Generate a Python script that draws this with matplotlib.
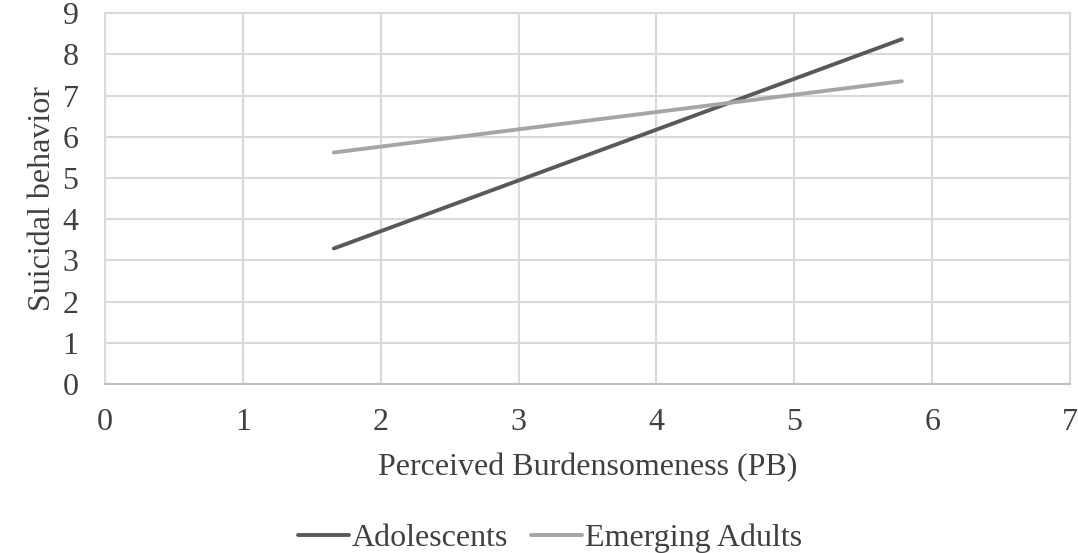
import numpy as np
import matplotlib.pyplot as plt

# slope data (PB mean -/+ 1 SD)
pb_x = [1.66, 5.78]
adolescents = [3.29, 8.37]
emerging_adults = [5.62, 7.35]

plt.rcParams['font.family'] = ['Liberation Serif', 'DejaVu Serif']

fig = plt.figure(figsize=(10.78, 5.53), dpi=100)
ax = fig.add_axes([0.0974, 0.3056, 0.8952, 0.6704])

ax.plot(pb_x, adolescents, color='#595959', lw=2.8, label='Adolescents', solid_capstyle='round')
ax.plot(pb_x, emerging_adults, color='#A5A5A5', lw=2.8, label='Emerging Adults', solid_capstyle='round')

ax.set_xlim(0, 7)
ax.set_ylim(0, 9)
ax.set_xticks(np.arange(0, 8, 1))
ax.set_yticks(np.arange(0, 10, 1))
ax.grid(True, color='#D9D9D9', lw=1.5)
ax.set_axisbelow(True)
for s in ax.spines.values():
    s.set_color('#D9D9D9')
    s.set_linewidth(1.5)
ax.spines['bottom'].set_color('#BFBFBF')
ax.tick_params(length=0, labelsize=23, labelcolor='#404040')
ax.tick_params(axis='x', pad=17)
ax.tick_params(axis='y', pad=19)

ax.set_xlabel('Perceived Burdensomeness (PB)', fontsize=23, color='#404040', labelpad=12)
ax.set_ylabel('Suicidal behavior', fontsize=23, color='#404040', labelpad=4)

leg = fig.legend(loc='center', bbox_to_anchor=(550 / 1078, 1 - 538 / 553), ncol=2, frameon=False,
                 fontsize=23, handlelength=1.6, handletextpad=0.1, columnspacing=0.7)
for t in leg.get_texts():
    t.set_color('#404040')

fig.savefig('out.png', dpi=100)
